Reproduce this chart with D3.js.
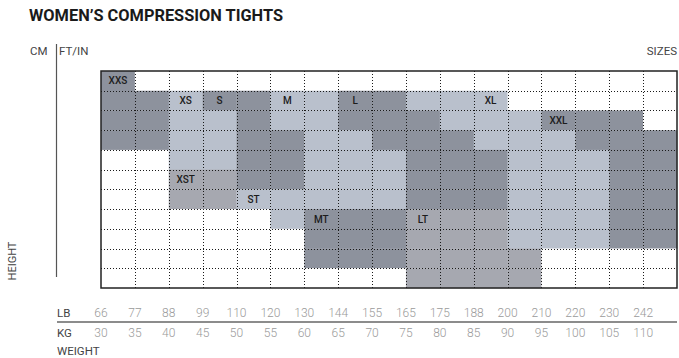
<!DOCTYPE html>
<html><head><meta charset="utf-8">
<script src="https://cdn.jsdelivr.net/npm/d3@7"></script>
<style>body{margin:0;background:#fff;} svg{display:block}</style>
</head><body>
<script>
// ---- data ----
const lbLabels = ["66","77","88","99","110","120","130","144","155","165","175","188","200","210","220","230","242"];
const kgLabels = ["30","35","40","45","50","55","60","65","70","75","80","85","90","95","100","105","110"];
const heightRows = [0,1,2,3,4,5,6,7,8,9,10];
// tone codes per cell: D = dark, L = light, M = medium (tall sizes), W = empty
const cellTones = [
  "DWWWWWWWWWWWWWWWW",
  "DDLDDLLDDLLLWWWWW",
  "DDLLDLLDDDLLLDDDW",
  "DDLLDDLLDDDLLLDDD",
  "WWLLDDLLLDDDLLLDD",
  "WWMMDDLLLDDDLLLDD",
  "WWMMLLLLLDDDLLLDD",
  "WWWWWLDDDMMMLLLDD",
  "WWWWWWDDDMMMLLLDD",
  "WWWWWWDDDMMMMWWWW",
  "WWWWWWWWWMMMMWWWW"
];
const sizeNames = ["XXS","XS","S","M","L","XL","XXL","XST","ST","MT","LT"];
const sizeRow   = [0,1,1,1,1,1,2,5,6,7,7];
const sizeCol   = [0,2,3,5,7,11,13,2,4,6,9];

// ---- drawing ----
const W = 679, H = 358;
const toneColor = {D:"#8d929d", L:"#b9c0cc", M:"#a6a8b0", W:"#ffffff"};
const svg = d3.select("body").append("svg").attr("width", W).attr("height", H);

const x = d3.scaleBand().domain(d3.range(lbLabels.length)).range([101, 677]);
const y = d3.scaleBand().domain(heightRows).range([71, 288]);

const cells = [];
heightRows.forEach(r => cellTones[r].split("").forEach((t, c) => cells.push({r, c, t})));

svg.append("g").selectAll("rect").data(cells).join("rect")
  .attr("x", d => x(d.c)).attr("y", d => y(d.r))
  .attr("width", x.bandwidth() + 0.3).attr("height", y.bandwidth() + 0.3)
  .attr("fill", d => toneColor[d.t]);

// dotted grid
const grid = svg.append("g").attr("stroke", "#1a1a1a").attr("stroke-width", 1).attr("stroke-dasharray", "1,2");
grid.selectAll("line.v").data(d3.range(1, lbLabels.length)).join("line")
  .attr("x1", d => Math.round(x(d)) + 0.5).attr("x2", d => Math.round(x(d)) + 0.5)
  .attr("y1", 71).attr("y2", 288);
grid.selectAll("line.h").data(heightRows.slice(1)).join("line")
  .attr("y1", d => Math.round(y(d)) + 0.5).attr("y2", d => Math.round(y(d)) + 0.5)
  .attr("x1", 101).attr("x2", 677);

// border
svg.append("rect").attr("x", 101).attr("y", 71).attr("width", 576).attr("height", 217)
  .attr("fill", "none").attr("stroke", "#222").attr("stroke-width", 1.5);

// size labels
svg.append("g").selectAll("text").data(sizeNames).join("text")
  .attr("x", (d, i) => x(sizeCol[i]) + x.bandwidth() / 2)
  .attr("y", (d, i) => y(sizeRow[i]) + y.bandwidth() / 2 + 3.6)
  .attr("text-anchor", "middle")
  .attr("font-family", "Roboto, 'DejaVu Sans', sans-serif")
  .attr("font-size", 10).attr("font-weight", 500).attr("fill", "#1c1c1c")
  .text(d => d);

// title and headers
const font = "Roboto, 'Liberation Sans', sans-serif";
svg.append("text").attr("x", 29).attr("y", 21).attr("font-family", font)
  .attr("font-size", 16).attr("font-weight", 700).attr("fill", "#1a1a1a")
  .attr("textLength", 254).attr("lengthAdjust", "spacingAndGlyphs")
  .text("WOMEN\u2019S COMPRESSION TIGHTS");

const hdr = (t, xx, yy, anchor) => svg.append("text").attr("x", xx).attr("y", yy)
  .attr("text-anchor", anchor || "start").attr("font-family", font)
  .attr("font-size", 11.5).attr("font-weight", 400).attr("fill", "#444").text(t);
hdr("CM", 30, 55);
hdr("FT/IN", 59, 55);
hdr("SIZES", 677, 55, "end");
hdr("LB", 57, 317);
hdr("KG", 57, 337);
hdr("WEIGHT", 57, 355);
svg.append("text").attr("transform", "translate(16,261) rotate(-90)")
  .attr("text-anchor", "middle").attr("font-family", font)
  .attr("font-size", 11).attr("font-weight", 400).attr("fill", "#444").text("HEIGHT");

// vertical rule
svg.append("line").attr("x1", 56.5).attr("x2", 56.5).attr("y1", 44).attr("y2", 277)
  .attr("stroke", "#555").attr("stroke-width", 1.2);
// weight rule
svg.append("line").attr("x1", 57).attr("x2", 677).attr("y1", 322).attr("y2", 322)
  .attr("stroke", "#666").attr("stroke-width", 1.3);

// weight labels
const lab = svg.append("g").attr("font-family", font).attr("font-size", 12)
  .attr("font-weight", 300).attr("fill", "#9a9a9a").attr("text-anchor", "middle");
lab.selectAll("text.lb").data(lbLabels).join("text").attr("class", "lb")
  .attr("x", (d, i) => x(i)).attr("y", 317).text(d => d);
lab.selectAll("text.kg").data(kgLabels).join("text").attr("class", "kg")
  .attr("x", (d, i) => x(i)).attr("y", 337).text(d => d);
</script>
</body></html>
